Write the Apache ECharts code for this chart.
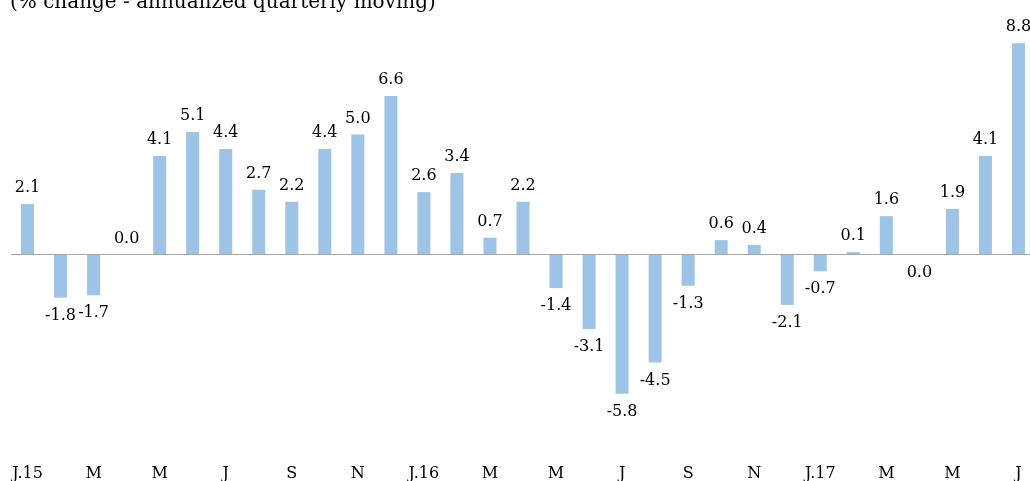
<!DOCTYPE html>
<html lang="en">
<head>
    <meta charset="UTF-8">
    <title>annualized quarterly moving</title>
    <script src="https://cdn.jsdelivr.net/npm/echarts@6/dist/echarts.min.js"></script>
    <style>
        html, body { margin: 0; padding: 0; background: #fff; }
        #chart { width: 1030px; height: 481px; }
    </style>
</head>
<body>
    <div id="chart"></div>
<script>
    // x轴月份（J.15 ~ J.17）
    let months = ['J.15', 'F', 'M', 'A', 'M', 'J', 'J', 'A', 'S', 'O', 'N', 'D',
        'J.16', 'F', 'M', 'A', 'M', 'J', 'J', 'A', 'S', 'O', 'N', 'D',
        'J.17', 'F', 'M', 'A', 'M', 'J', 'J'];
    // 柱形数据
    let values = [2.1, -1.8, -1.7, 0.0, 4.1, 5.1, 4.4, 2.7, 2.2, 4.4, 5.0, 6.6,
        2.6, 3.4, 0.7, 2.2, -1.4, -3.1, -5.8, -4.5, -1.3, 0.6, 0.4, -2.1,
        -0.7, 0.1, 1.6, -0.02, 1.9, 4.1, 8.8];
    let subtitle = '(% change - annualized quarterly moving)';

    (function () {
        let myChart = echarts.init(document.getElementById('chart'));
        let font = 'DejaVu Serif';

        let barData = values.map(function (v) {
            return {
                value: v,
                label: { position: v < 0 ? 'bottom' : 'top', distance: v < 0 ? 10 : 8 }
            };
        });

        let option = {
            animation: false,
            textStyle: { fontFamily: font },
            title: {
                text: subtitle,
                left: 5,
                top: -12,
                textStyle: { fontFamily: font, fontSize: 20, fontWeight: 'normal', color: '#000' }
            },
            grid: {
                left: 11,
                right: -5,
                top: 14.5,
                bottom: 34.5,
                outerBoundsMode: 'none'
            },
            xAxis: {
                type: 'category',
                data: months,
                axisLine: { show: false, onZero: false },
                axisTick: { show: false },
                axisLabel: {
                    interval: 1,
                    margin: 19,
                    fontFamily: font,
                    fontSize: 16,
                    color: '#000'
                }
            },
            yAxis: {
                type: 'value',
                min: -8,
                max: 10,
                show: false
            },
            series: [
                {
                    type: 'bar',
                    barWidth: 13,
                    itemStyle: { color: '#9dc3e6' },
                    label: {
                        show: true,
                        fontFamily: font,
                        fontSize: 16,
                        color: '#000',
                        formatter: function (p) {
                            return (Math.round(p.value * 10) / 10).toFixed(1);
                        }
                    },
                    markLine: {
                        silent: true,
                        symbol: 'none',
                        label: { show: false },
                        lineStyle: { color: '#a6a6a6', type: 'solid', width: 1 },
                        data: [{ yAxis: 0 }]
                    },
                    data: barData
                }
            ]
        };
        myChart.setOption(option);
    })()
</script>
</body>
</html>
